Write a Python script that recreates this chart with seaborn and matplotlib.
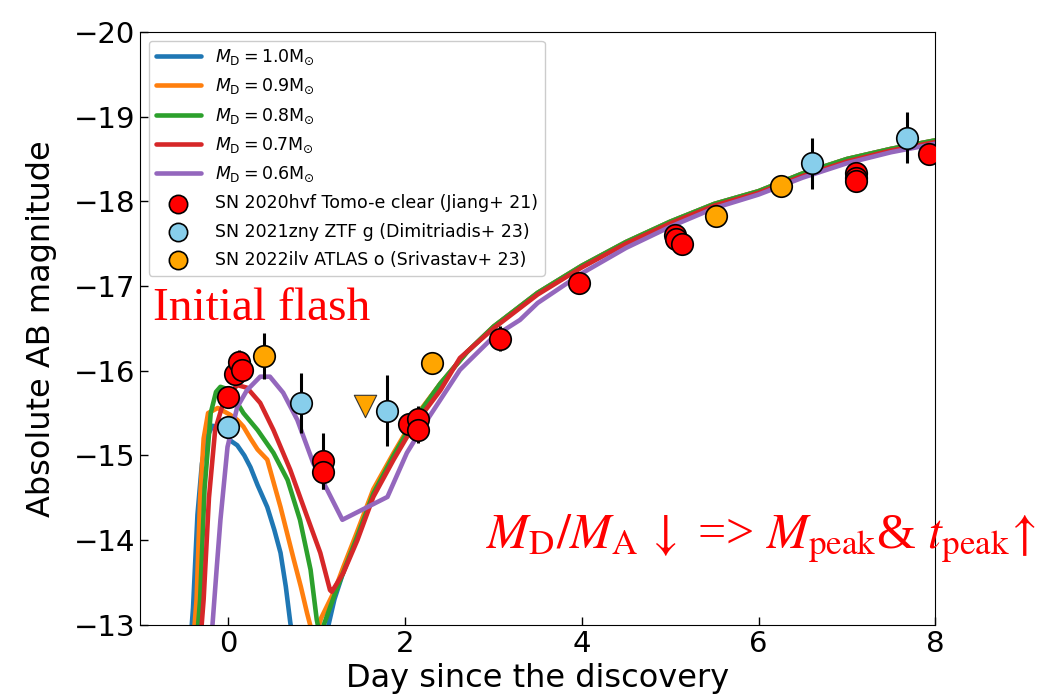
import numpy as np
import pandas as pd
import matplotlib
matplotlib.use("Agg")
import matplotlib.pyplot as plt
import seaborn as sns

# ---------------- data ----------------
model_labels = [r"$M_{\rm D}=1.0{\rm M}_{\odot}$", r"$M_{\rm D}=0.9{\rm M}_{\odot}$",
                r"$M_{\rm D}=0.8{\rm M}_{\odot}$", r"$M_{\rm D}=0.7{\rm M}_{\odot}$",
                r"$M_{\rm D}=0.6{\rm M}_{\odot}$"]
model_colors = ["#1f77b4", "#ff7f0e", "#2ca02c", "#d62728", "#9467bd"]

tail_x = [2.4, 2.7, 3.0, 3.5, 4.0, 4.5, 5.0, 5.5, 6.0, 6.5, 7.0, 7.5, 8.0]
tail_y = [-15.85, -16.22, -16.52, -16.92, -17.24, -17.52, -17.76, -17.97, -18.12, -18.33, -18.5, -18.62, -18.72]

m10_x = [-0.45, -0.40, -0.35, -0.30, -0.25, -0.18, -0.10, -0.03, 0.03, 0.10, 0.18, 0.25, 0.33,
         0.44, 0.52, 0.59, 0.65, 0.70, 0.75, 0.95, 1.10, 1.20, 1.30, 1.45, 1.64, 1.87, 2.09] + tail_x
m10_y = [-12.5, -13.2, -14.3, -14.9, -15.2, -15.35, -15.33, -15.25, -15.17, -15.12, -15.0, -14.86, -14.65,
         -14.39, -14.12, -13.85, -13.45, -13.03, -12.7, -12.3, -12.85, -13.3, -13.62, -14.02, -14.55, -15.0, -15.4] + tail_y

m09_x = [-0.42, -0.36, -0.32, -0.28, -0.23, -0.12, 0.02, 0.10, 0.17, 0.25, 0.33, 0.44, 0.52, 0.59,
         0.66, 0.74, 0.82, 0.89, 0.95, 0.98, 1.05, 1.20, 1.30, 1.45, 1.64, 1.87, 2.09] + tail_x
m09_y = [-12.5, -13.3, -14.5, -15.2, -15.5, -15.56, -15.48, -15.42, -15.34, -15.2, -15.07, -14.95, -14.65, -14.39,
         -14.1, -13.77, -13.45, -13.14, -12.9, -12.85, -13.08, -13.4, -13.68, -14.08, -14.6, -15.03, -15.42] + tail_y

m08_x = [-0.38, -0.32, -0.27, -0.20, -0.14, -0.09, 0.00, 0.06, 0.17, 0.33, 0.51, 0.67, 0.81, 0.93,
         1.00, 1.04, 1.08, 1.20, 1.30, 1.45, 1.64, 1.87, 2.09] + tail_x
m08_y = [-12.5, -13.3, -14.6, -15.5, -15.75, -15.81, -15.78, -15.69, -15.5, -15.3, -15.03, -14.71, -14.24, -13.65,
         -13.06, -12.85, -13.0, -13.35, -13.62, -14.02, -14.55, -15.0, -15.4] + tail_y

m07_x = [-0.34, -0.28, -0.22, -0.15, -0.05, 0.10, 0.21, 0.36, 0.51, 0.70, 0.89, 1.04, 1.15, 1.17,
         1.30, 1.46, 1.64, 1.87, 2.09, 2.40, 2.62, 3.0, 3.5, 4.0, 4.5, 5.0, 5.5, 6.0, 6.5, 7.0, 7.5, 8.0]
m07_y = [-12.5, -13.3, -14.5, -15.3, -15.65, -15.83, -15.8, -15.62, -15.3, -14.83, -14.28, -13.85, -13.41, -13.39,
         -13.61, -14.0, -14.51, -14.95, -15.34, -15.77, -16.15, -16.5, -16.9, -17.22, -17.5, -17.74, -17.95, -18.1,
         -18.3, -18.47, -18.6, -18.7]

m06_x = [-0.22, -0.18, -0.13, -0.09, -0.01, 0.10, 0.21, 0.36, 0.47, 0.62, 0.78, 0.96, 1.12, 1.29,
         1.80, 2.02, 2.25, 2.62, 3.0, 3.3, 3.5, 4.0, 4.5, 5.0, 5.5, 6.0, 6.5, 7.0, 7.5, 8.0]
m06_y = [-12.5, -13.0, -13.7, -14.24, -15.1, -15.57, -15.77, -15.93, -15.93, -15.74, -15.42, -14.91, -14.59, -14.24,
         -14.51, -15.03, -15.42, -16.01, -16.4, -16.6, -16.8, -17.15, -17.45, -17.7, -17.92, -18.08, -18.28, -18.45,
         -18.58, -18.68]

models_x = [m10_x, m09_x, m08_x, m07_x, m06_x]
models_y = [m10_y, m09_y, m08_y, m07_y, m06_y]

hvf_x = [0.0, 0.07, 0.12, 0.15, 1.07, 1.07, 2.04, 2.15, 2.15, 3.07, 3.97, 5.05, 5.07, 5.13, 7.1, 7.1, 7.1, 7.93]
hvf_y = [-15.69, -15.96, -16.1, -16.01, -14.93, -14.8, -15.37, -15.43, -15.3, -16.38, -17.04, -17.6, -17.55, -17.5,
         -18.34, -18.28, -18.24, -18.56]
hvf_e = [0.1, 0.1, 0.15, 0.1, 0.33, 0.2, 0.1, 0.15, 0.15, 0.15, 0.05, 0.05, 0.05, 0.05, 0.05, 0.05, 0.05, 0.05]

zny_x = [0.0, 0.82, 1.80, 6.60, 7.68]
zny_y = [-15.33, -15.62, -15.53, -18.45, -18.75]
zny_e = [0.12, 0.35, 0.42, 0.3, 0.3]

ilv_x = [0.40, 2.30, 5.52, 6.25]
ilv_y = [-16.17, -16.09, -17.83, -18.18]
ilv_e = [0.27, 0.1, 0.05, 0.05]

lim_x = [1.55]
lim_y = [-15.58]

data_labels = ["SN 2020hvf Tomo-e clear (Jiang+ 21)", "SN 2021zny ZTF g (Dimitriadis+ 23)",
               "SN 2022ilv ATLAS o (Srivastav+ 23)"]
data_colors = ["red", "skyblue", "orange"]

# ---------------- plot ----------------
sns.set_style("ticks")
plt.rcParams["font.family"] = ["DejaVu Sans"]
plt.rcParams["xtick.direction"] = "in"
plt.rcParams["ytick.direction"] = "in"
plt.rcParams["text.color"] = "black"
plt.rcParams["axes.labelcolor"] = "black"
plt.rcParams["xtick.color"] = "black"
plt.rcParams["ytick.color"] = "black"

fig = plt.figure(figsize=(10.45, 6.95), dpi=100)
ax = fig.add_axes([0.134, 0.101, 0.761, 0.853])

for mx, my, lab, col in zip(models_x, models_y, model_labels, model_colors):
    sns.lineplot(x=mx, y=my, ax=ax, color=col, lw=3.3, label=lab, sort=False, estimator=None, zorder=2)

for dx, dy, de, lab, col in zip([hvf_x, zny_x, ilv_x], [hvf_y, zny_y, ilv_y], [hvf_e, zny_e, ilv_e],
                                data_labels, data_colors):
    ax.errorbar(dx, dy, yerr=de, fmt="none", ecolor="black", elinewidth=2.2, capsize=0, zorder=3)
    sns.scatterplot(x=dx, y=dy, ax=ax, color=col, s=240, edgecolor="black", linewidth=1.2,
                    label=lab, zorder=4)

sns.scatterplot(x=lim_x, y=lim_y, ax=ax, color="orange", marker="v", s=260, edgecolor="#333333",
                linewidth=0.8, zorder=4)

ax.set_xlim(-1, 8)
ax.set_ylim(-13, -20)
ax.set_xticks([0, 2, 4, 6, 8])
ax.set_yticks([-13, -14, -15, -16, -17, -18, -19, -20])
ax.tick_params(labelsize=21, length=6, width=1, top=False, right=False, colors="black")
for s in ax.spines.values():
    s.set_visible(True)
    s.set_color("black")
ax.set_xlabel("Day since the discovery", fontsize=23, labelpad=4)
ax.set_ylabel("Absolute AB magnitude", fontsize=23, labelpad=12)

leg = ax.legend(loc="upper left", fontsize=12.5, handlelength=2.6, framealpha=1,
                borderaxespad=0.5, markerscale=0.85, labelspacing=0.58)
for t in leg.get_texts():
    t.set_color("black")

ax.text(1.41, -18.9, "ZTF g-band", fontsize=23, family="Liberation Serif", color="black")
ax.text(-0.85, -16.6, "Initial flash", fontsize=34, family="Liberation Serif", color="red")
ax.text(2.91, -13.9, r"$M_{\rm D}/M_{\rm A}\,\downarrow$ => $M_{\rm peak}$& $t_{\rm peak}\!\uparrow$",
        fontsize=36, family="Liberation Serif", math_fontfamily="stix", color="red", clip_on=False)

fig.savefig("out.png", dpi=100)
